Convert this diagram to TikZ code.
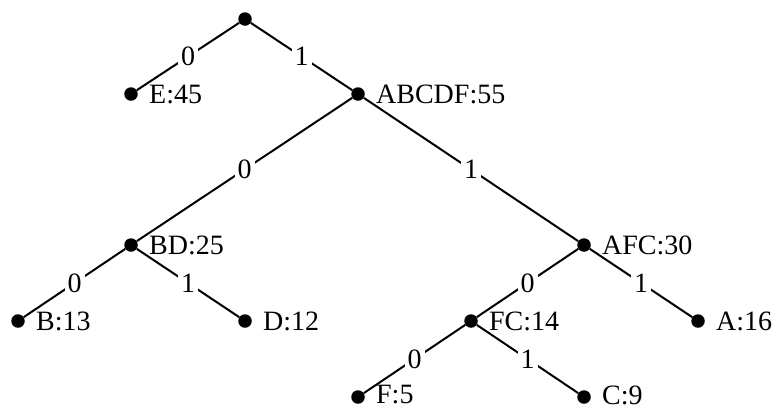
\documentclass[tikz,border=0pt]{standalone}
\usepackage{fontspec}
\setmainfont{Liberation Serif}
\begin{document}
\begin{tikzpicture}[x=1pt,y=-1pt,
  dot/.style={circle,fill=black,inner sep=0pt,minimum size=13.5pt,
    label={[label distance=11pt,inner sep=0pt]right:#1}},
  lowdot/.style={circle,fill=black,inner sep=0pt,minimum size=13.5pt,
    label={[label distance=11pt,inner sep=0pt,yshift=2pt]right:#1}},
  edge/.style={line width=2pt},
  bit/.style={fill=white,inner sep=3pt},
  every node/.append style={font=\fontsize{28}{32}\selectfont}]
\useasboundingbox (0,0) rectangle (775,408);
\node[dot={}] (root) at (245,19) {};
\node[dot={E:45}] (E) at (131,94) {};
\node[dot={ABCDF:55}] (ABCDF) at (358,94) {};
\node[dot={BD:25}] (BD) at (131,245) {};
\node[dot={AFC:30}] (AFC) at (584,245) {};
\node[dot={B:13}] (B) at (18,321) {};
\node[dot={D:12}] (D) at (245,321) {};
\node[dot={FC:14}] (FC) at (471,321) {};
\node[dot={A:16}] (A) at (698,321) {};
\node[lowdot={F:5}] (F) at (358,397) {};
\node[lowdot={C:9}] (C) at (584,397) {};
\draw[edge] (root) -- node[bit] (l1) {0} (E);
\draw[edge] (root) -- node[bit] (l2) {1} (ABCDF);
\draw[edge] (ABCDF) -- node[bit] (l3) {0} (BD);
\draw[edge] (ABCDF) -- node[bit] (l4) {1} (AFC);
\draw[edge] (BD) -- node[bit] (l5) {0} (B);
\draw[edge] (BD) -- node[bit] (l6) {1} (D);
\draw[edge] (AFC) -- node[bit] (l7) {0} (FC);
\draw[edge] (AFC) -- node[bit] (l8) {1} (A);
\draw[edge] (FC) -- node[bit] (l9) {0} (F);
\draw[edge] (FC) -- node[bit] (l10) {1} (C);
\end{tikzpicture}
\end{document}
